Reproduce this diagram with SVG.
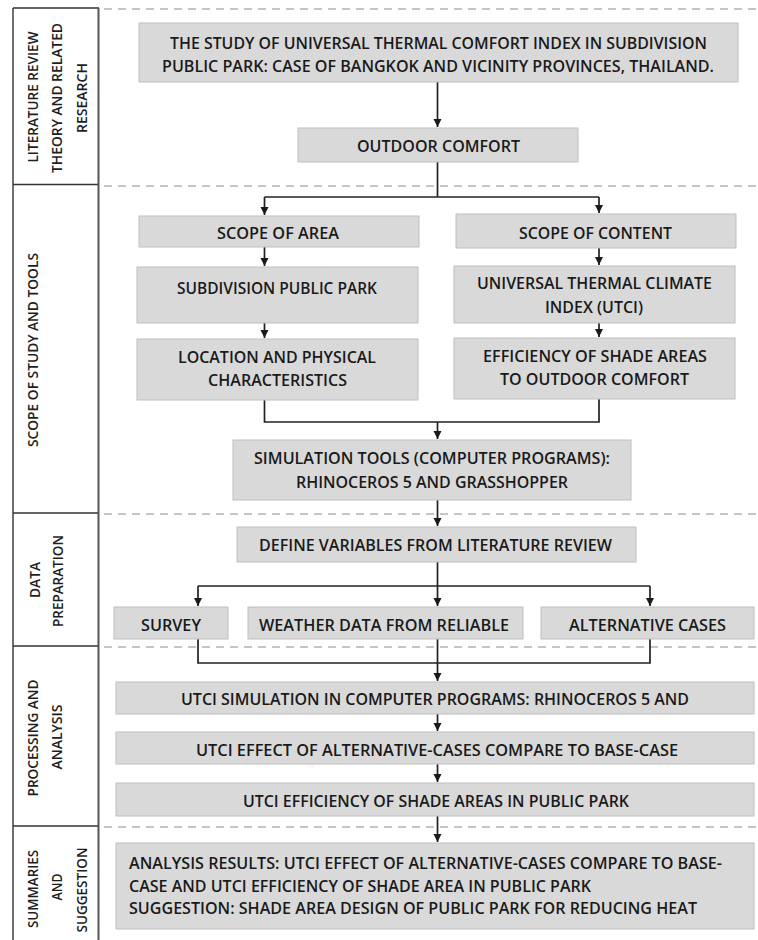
<svg xmlns="http://www.w3.org/2000/svg" width="758" height="940" viewBox="0 0 758 940">
<style>
.bg{fill:#ffffff}
.box{fill:#d9d9d9;stroke:#bfbfbf;stroke-width:1}
.t{font-family:"Open Sans","Liberation Sans",sans-serif;font-size:15.5px;font-weight:600;fill:#1a1a1a;text-anchor:middle}
.tl{font-family:"Open Sans","Liberation Sans",sans-serif;font-size:15.5px;font-weight:600;fill:#1a1a1a;text-anchor:start}
.side{font-family:"Open Sans","Liberation Sans",sans-serif;font-size:14.5px;font-weight:600;fill:#1e1e1e;text-anchor:middle}
.conn{fill:none;stroke:#222;stroke-width:1.7}
.dash{stroke:#b3b3b3;stroke-width:1.5;stroke-dasharray:8 6;fill:none}
.col{stroke:#333;stroke-width:1.4;fill:none}
</style>
<defs>
<marker id="ah" markerUnits="userSpaceOnUse" markerWidth="9" markerHeight="9" refX="8" refY="4" orient="auto">
<path d="M0,0 L8,4 L0,8 z" fill="#1a1a1a"/>
</marker>
</defs>
<rect class="bg" x="0" y="0" width="758" height="940"/>

<g id="sections">
<path class="dash" d="M104,9 H758 M104,186 H758 M104,514 H758 M104,647 H758 M104,827 H758"/>
<path class="col" d="M13,8 V940 M13,8 H99 M13,184.5 H99 M13,513 H99 M13,646 H99 M13,826 H99"/>
<path d="M98.5,8 V940" stroke="#555" stroke-width="2" fill="none"/>
</g>

<g id="label-literature">
<text class="side" transform="translate(38,97) rotate(-90)" textLength="131" lengthAdjust="spacingAndGlyphs">LITERATURE REVIEW</text>
<text class="side" transform="translate(62,98) rotate(-90)" textLength="150" lengthAdjust="spacingAndGlyphs">THEORY AND RELATED</text>
<text class="side" transform="translate(87,98) rotate(-90)" textLength="70" lengthAdjust="spacingAndGlyphs">RESEARCH</text>
</g>
<g id="label-scope">
<text class="side" transform="translate(38,350) rotate(-90)" textLength="194" lengthAdjust="spacingAndGlyphs">SCOPE OF STUDY AND TOOLS</text>
</g>
<g id="label-data">
<text class="side" transform="translate(40,580) rotate(-90)" textLength="36" lengthAdjust="spacingAndGlyphs">DATA</text>
<text class="side" transform="translate(63,581) rotate(-90)" textLength="92" lengthAdjust="spacingAndGlyphs">PREPARATION</text>
</g>
<g id="label-processing">
<text class="side" transform="translate(38,738) rotate(-90)" textLength="117" lengthAdjust="spacingAndGlyphs">PROCESSING AND</text>
<text class="side" transform="translate(62,737) rotate(-90)" textLength="65" lengthAdjust="spacingAndGlyphs">ANALYSIS</text>
</g>
<g id="label-summaries">
<text class="side" transform="translate(38,889) rotate(-90)" textLength="78" lengthAdjust="spacingAndGlyphs">SUMMARIES</text>
<text class="side" transform="translate(62,887) rotate(-90)" textLength="27" lengthAdjust="spacingAndGlyphs">AND</text>
<text class="side" transform="translate(87,890) rotate(-90)" textLength="85" lengthAdjust="spacingAndGlyphs">SUGGESTION</text>
</g>

<g id="connectors">
<path class="conn" d="M437.5,82 V127" marker-end="url(#ah)"/>
<path class="conn" d="M437.5,162 V197 M264.5,197 H599"/>
<path class="conn" d="M264.5,197 V215" marker-end="url(#ah)"/>
<path class="conn" d="M599,197 V213" marker-end="url(#ah)"/>
<path class="conn" d="M264.5,247 V266" marker-end="url(#ah)"/>
<path class="conn" d="M599,248 V265" marker-end="url(#ah)"/>
<path class="conn" d="M264.5,323 V338" marker-end="url(#ah)"/>
<path class="conn" d="M599,323 V337" marker-end="url(#ah)"/>
<path class="conn" d="M264.5,400 V422 H599 V399"/>
<path class="conn" d="M437.5,422 V439" marker-end="url(#ah)"/>
<path class="conn" d="M437.5,500 V526" marker-end="url(#ah)"/>
<path class="conn" d="M437.5,562 V606" marker-end="url(#ah)"/>
<path class="conn" d="M198,586 H650"/>
<path class="conn" d="M198,586 V606" marker-end="url(#ah)"/>
<path class="conn" d="M650,586 V606" marker-end="url(#ah)"/>
<path class="conn" d="M198,639 V663 H650 V639 M437.5,639 V663"/>
<path class="conn" d="M437.5,663 V681" marker-end="url(#ah)"/>
<path class="conn" d="M437.5,714 V731" marker-end="url(#ah)"/>
<path class="conn" d="M437.5,764 V782" marker-end="url(#ah)"/>
<path class="conn" d="M437.5,816 V842" marker-end="url(#ah)"/>
</g>

<g id="title">
<rect class="box" x="139" y="23" width="599" height="59"/>
<text class="t" x="438.5" y="48.5" textLength="537" lengthAdjust="spacingAndGlyphs">THE STUDY OF UNIVERSAL THERMAL COMFORT INDEX IN SUBDIVISION</text>
<text class="t" x="438" y="71.5" textLength="552" lengthAdjust="spacingAndGlyphs">PUBLIC PARK: CASE OF BANGKOK AND VICINITY PROVINCES, THAILAND.</text>
</g>
<g id="outdoor-comfort">
<rect class="box" x="298" y="128" width="280" height="34"/>
<text class="t" x="438.5" y="151.5" textLength="163" lengthAdjust="spacingAndGlyphs">OUTDOOR COMFORT</text>
</g>
<g id="scope-area">
<rect class="box" x="139" y="216" width="280" height="31"/>
<text class="t" x="278" y="238.5" textLength="122" lengthAdjust="spacingAndGlyphs">SCOPE OF AREA</text>
</g>
<g id="scope-content">
<rect class="box" x="456" y="214" width="280" height="34"/>
<text class="t" x="595.5" y="238.5" textLength="153" lengthAdjust="spacingAndGlyphs">SCOPE OF CONTENT</text>
</g>
<g id="subdivision-park">
<rect class="box" x="137" y="267" width="281" height="56"/>
<text class="t" x="277" y="293.5" textLength="200" lengthAdjust="spacingAndGlyphs">SUBDIVISION PUBLIC PARK</text>
</g>
<g id="utci-index">
<rect class="box" x="454" y="266" width="281" height="57"/>
<text class="t" x="594.5" y="288.5" textLength="235" lengthAdjust="spacingAndGlyphs">UNIVERSAL THERMAL CLIMATE</text>
<text class="t" x="594" y="312.5" textLength="98" lengthAdjust="spacingAndGlyphs">INDEX (UTCI)</text>
</g>
<g id="location">
<rect class="box" x="137" y="339" width="281" height="61"/>
<text class="t" x="277" y="362.5" textLength="198" lengthAdjust="spacingAndGlyphs">LOCATION AND PHYSICAL</text>
<text class="t" x="277.5" y="385.5" textLength="139" lengthAdjust="spacingAndGlyphs">CHARACTERISTICS</text>
</g>
<g id="efficiency-shade">
<rect class="box" x="454" y="338" width="281" height="61"/>
<text class="t" x="595" y="361.5" textLength="224" lengthAdjust="spacingAndGlyphs">EFFICIENCY OF SHADE AREAS</text>
<text class="t" x="594.5" y="384.5" textLength="189" lengthAdjust="spacingAndGlyphs">TO OUTDOOR COMFORT</text>
</g>
<g id="simulation-tools">
<rect class="box" x="233" y="440" width="398" height="60"/>
<text class="t" x="432" y="463.5" textLength="356" lengthAdjust="spacingAndGlyphs">SIMULATION TOOLS (COMPUTER PROGRAMS):</text>
<text class="t" x="432" y="487.5" textLength="272" lengthAdjust="spacingAndGlyphs">RHINOCEROS 5 AND GRASSHOPPER</text>
</g>
<g id="define-variables">
<rect class="box" x="237" y="527" width="399" height="35"/>
<text class="t" x="435.5" y="550.5" textLength="353" lengthAdjust="spacingAndGlyphs">DEFINE VARIABLES FROM LITERATURE REVIEW</text>
</g>
<g id="survey">
<rect class="box" x="114" y="607" width="114" height="32"/>
<text class="t" x="171" y="630.5" textLength="60" lengthAdjust="spacingAndGlyphs">SURVEY</text>
</g>
<g id="weather-data">
<rect class="box" x="248" y="607" width="275" height="32"/>
<text class="t" x="384" y="630.5" textLength="250" lengthAdjust="spacingAndGlyphs">WEATHER DATA FROM RELIABLE</text>
</g>
<g id="alternative-cases">
<rect class="box" x="541" y="607" width="213" height="32"/>
<text class="t" x="647.5" y="630.5" textLength="157" lengthAdjust="spacingAndGlyphs">ALTERNATIVE CASES</text>
</g>
<g id="utci-simulation">
<rect class="box" x="116" y="682" width="638" height="32"/>
<text class="t" x="435" y="704.5" textLength="508" lengthAdjust="spacingAndGlyphs">UTCI SIMULATION IN COMPUTER PROGRAMS: RHINOCEROS 5 AND</text>
</g>
<g id="utci-effect">
<rect class="box" x="116" y="732" width="638" height="32"/>
<text class="t" x="437" y="755.5" textLength="482" lengthAdjust="spacingAndGlyphs">UTCI EFFECT OF ALTERNATIVE-CASES COMPARE TO BASE-CASE</text>
</g>
<g id="utci-efficiency">
<rect class="box" x="116" y="783" width="638" height="33"/>
<text class="t" x="436" y="806.5" textLength="386" lengthAdjust="spacingAndGlyphs">UTCI EFFICIENCY OF SHADE AREAS IN PUBLIC PARK</text>
</g>
<g id="analysis-results">
<rect class="box" x="116" y="843" width="638" height="86"/>
<text class="tl" x="129" y="868.5" textLength="593" lengthAdjust="spacingAndGlyphs">ANALYSIS RESULTS: UTCI EFFECT OF ALTERNATIVE-CASES COMPARE TO BASE-</text>
<text class="tl" x="129" y="891.5" textLength="462" lengthAdjust="spacingAndGlyphs">CASE AND UTCI EFFICIENCY OF SHADE AREA IN PUBLIC PARK</text>
<text class="tl" x="129" y="913.5" textLength="568" lengthAdjust="spacingAndGlyphs">SUGGESTION: SHADE AREA DESIGN OF PUBLIC PARK FOR REDUCING HEAT</text>
</g>
</svg>
